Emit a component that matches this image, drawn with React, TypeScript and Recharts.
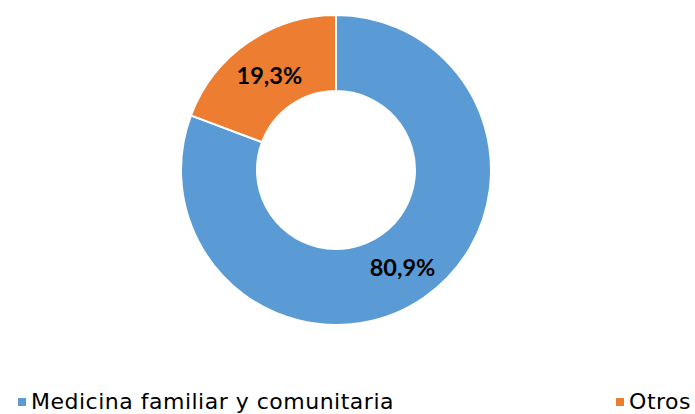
import React from 'react';
import { PieChart, Pie, Cell, Legend } from 'recharts';

const categories = ['Medicina familiar y comunitaria', 'Otros'];
const values = [80.9, 19.3];
const labels = ['80,9%', '19,3%'];
const colors = ['#5B9BD5', '#ED7D31'];

const data = categories.map((name, i) => ({ name, value: values[i], label: labels[i] }));

const RADIAN = Math.PI / 180;

// Percentage label in the middle of the ring
const SliceLabel = (props: any) => {
  const { cx, cy, midAngle, innerRadius, outerRadius, index } = props;
  const r = (innerRadius + outerRadius) / 2;
  const x = cx + r * Math.cos(-midAngle * RADIAN);
  const y = cy + r * Math.sin(-midAngle * RADIAN);
  return (
    <text
      x={x}
      y={y + 1}
      fill="#000"
      textAnchor="middle"
      dominantBaseline="central"
      style={{ fontFamily: 'Lato, sans-serif', fontWeight: 700, fontSize: 23.5 }}
    >
      {data[index].label}
    </text>
  );
};

const CustomLegend = () => (
  <div
    style={{
      display: 'flex',
      justifyContent: 'space-between',
      padding: '0 4px 0 18px',
      fontFamily: '"DejaVu Sans", sans-serif',
      fontSize: 22,
      letterSpacing: 0.5,
      color: '#000',
    }}
  >
    {data.map((d, i) => (
      <div key={d.name} style={{ display: 'flex', alignItems: 'center', gap: 5 }}>
        <span style={{ width: 8, height: 8, background: colors[i], display: 'inline-block' }} />
        <span>{d.name}</span>
      </div>
    ))}
  </div>
);

export default function App() {
  return (
    <div style={{ position: 'absolute', left: 0, top: 0, width: 695, height: 414, background: '#fff' }}>
      <PieChart width={695} height={414} margin={{ top: 0, right: 0, bottom: 0, left: 0 }}>
        <Pie
          data={data}
          dataKey="value"
          cx={336}
          cy={170}
          innerRadius={79}
          outerRadius={155}
          startAngle={90}
          endAngle={-270}
          stroke="#fff"
          strokeWidth={2}
          label={SliceLabel}
          labelLine={false}
          isAnimationActive={false}
        >
          {data.map((d, i) => (
            <Cell key={`cell-${i}`} fill={colors[i]} />
          ))}
        </Pie>
        <Legend
          verticalAlign="bottom"
          content={<CustomLegend />}
          wrapperStyle={{ bottom: 0, left: 0, width: 695 }}
        />
      </PieChart>
    </div>
  );
}
